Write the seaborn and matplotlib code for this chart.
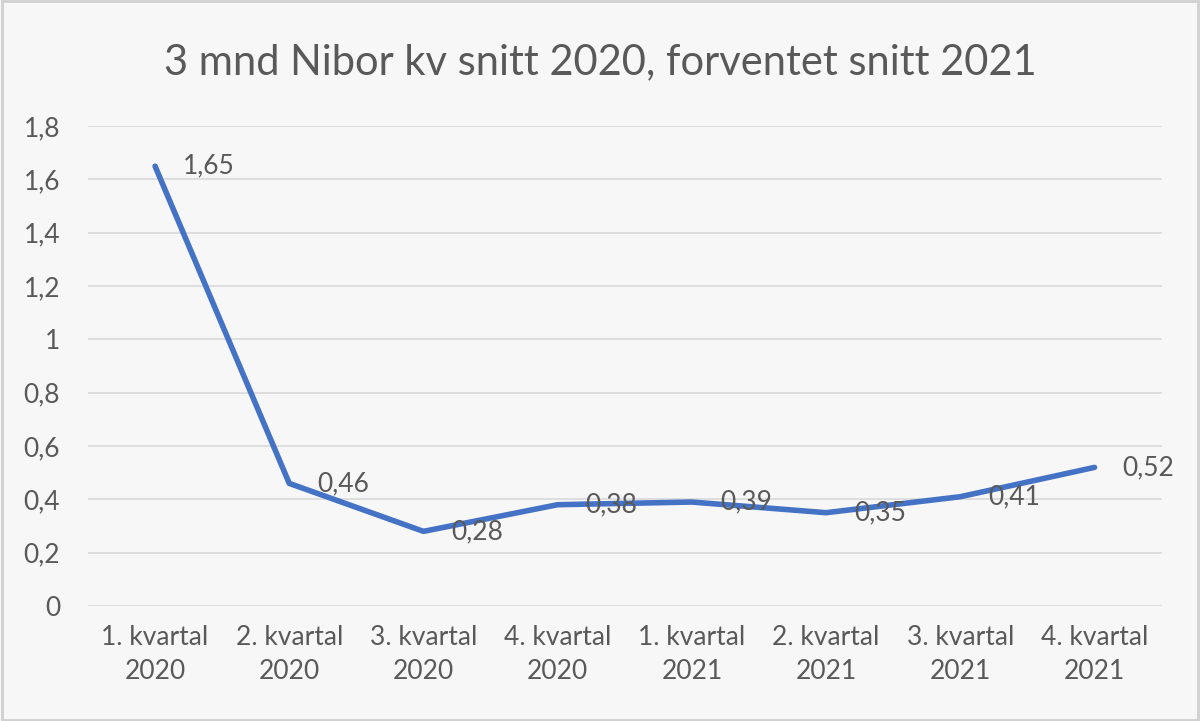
import matplotlib
matplotlib.use("Agg")
import matplotlib.pyplot as plt
import seaborn as sns
import pandas as pd
from matplotlib.patches import Rectangle

categories = ["1. kvartal\n2020", "2. kvartal\n2020", "3. kvartal\n2020", "4. kvartal\n2020",
              "1. kvartal\n2021", "2. kvartal\n2021", "3. kvartal\n2021", "4. kvartal\n2021"]
values = [1.65, 0.46, 0.28, 0.38, 0.39, 0.35, 0.41, 0.52]
value_labels = ["1,65", "0,46", "0,28", "0,38", "0,39", "0,35", "0,41", "0,52"]
yticks = [0, 0.2, 0.4, 0.6, 0.8, 1.0, 1.2, 1.4, 1.6, 1.8]
ytick_labels = ["0", "0,2", "0,4", "0,6", "0,8", "1", "1,2", "1,4", "1,6", "1,8"]
title = "3 mnd Nibor kv snitt 2020, forventet snitt 2021"

sns.set_theme(style="white")
plt.rcParams['font.family'] = ['Lato', 'DejaVu Sans']

BG = "#f7f7f7"
TXT = "#595959"
LINE = "#4472c4"
GRID = "#d9d9d9"

fig = plt.figure(figsize=(12, 7.21), dpi=100, facecolor=BG)
fig.patches.append(Rectangle((0.002, 0.002), 0.996, 0.996, transform=fig.transFigure,
                             fill=False, edgecolor="#d0d0d0", linewidth=2))
ax = fig.add_axes([0.0733, 0.1595, 0.8947, 0.6655])
ax.set_facecolor(BG)

df = pd.DataFrame({"x": range(len(values)), "y": values})
sns.lineplot(data=df, x="x", y="y", ax=ax, color=LINE, linewidth=4.0, sort=False)

for i, (v, lab) in enumerate(zip(values, value_labels)):
    ax.annotate(lab, (i, v), xytext=(28, 0), textcoords="offset pixels",
                ha="left", va="center", fontsize=19, color=TXT)

ax.set_xlim(-0.5, len(values) - 0.5)
ax.set_ylim(0, 1.8)
ax.set_yticks(yticks)
ax.set_yticklabels(ytick_labels, fontsize=19, color=TXT)
ax.set_xticks(range(len(categories)))
ax.set_xticklabels(categories, fontsize=19, color=TXT, linespacing=1.45)
ax.tick_params(axis="y", length=0, pad=20)
ax.tick_params(axis="x", length=0, pad=14)
ax.yaxis.grid(True, color=GRID, linewidth=1.2)
ax.xaxis.grid(False)
for s in ax.spines.values():
    s.set_visible(False)
ax.set_xlabel("")
ax.set_ylabel("")

fig.text(0.5, 0.914, title, ha="center", va="center", fontsize=30, color=TXT)

fig.savefig("out.png", dpi=100, facecolor=BG)
